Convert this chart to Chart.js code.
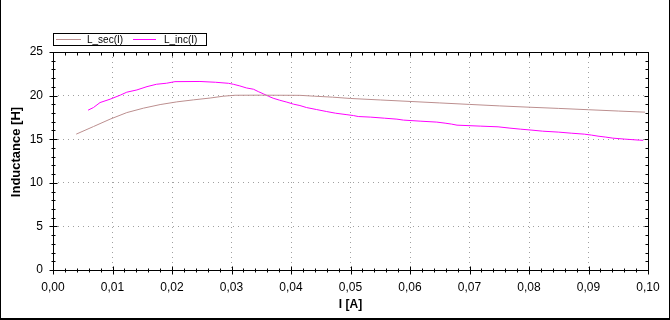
<!DOCTYPE html>
<html>
<head>
<meta charset="utf-8">
<title>Inductance</title>
<script src="https://cdn.jsdelivr.net/npm/chart.js@4.4.1/dist/chart.umd.min.js"></script>
<style>
  body { margin: 0; background: #fff; }
  #wrap { position: relative; width: 670px; height: 320px; }
</style>
</head>
<body>
<div id="wrap">
  <canvas id="myChart" width="670" height="320"></canvas>
</div>
<script>
// series: current I [A] and inductance [H]
const secI = [0.0039, 0.0068, 0.0096, 0.0124, 0.0152, 0.0180, 0.0208, 0.0236, 0.0264, 0.0286,
  0.0306, 0.0350, 0.0415, 0.0440, 0.0470, 0.0500, 0.0550, 0.0600, 0.0650, 0.0700,
  0.0750, 0.0800, 0.0850, 0.0900, 0.0950, 0.0995];
const secL = [15.58, 16.45, 17.30, 18.05, 18.56, 18.97, 19.28, 19.51, 19.72, 19.93,
  20.04, 20.05, 20.03, 19.93, 19.82, 19.67, 19.50, 19.33, 19.16, 18.99,
  18.82, 18.67, 18.53, 18.38, 18.23, 18.10];

const incI = [0.0059, 0.0068, 0.0079, 0.0096, 0.0113, 0.0124, 0.0141, 0.0158, 0.0174, 0.0191,
  0.0205, 0.0247, 0.0273, 0.0295, 0.0303, 0.0314, 0.0325, 0.0337, 0.0345, 0.0354,
  0.0362, 0.0370, 0.0381, 0.0393, 0.0404, 0.0415, 0.0426, 0.0443, 0.0460, 0.0475,
  0.0494, 0.0505, 0.0513, 0.0534, 0.0557, 0.0578, 0.0589, 0.0617, 0.0645, 0.0659,
  0.0670, 0.0679, 0.0718, 0.0748, 0.0768, 0.0786, 0.0805, 0.0823, 0.0850, 0.0871,
  0.0893, 0.0905, 0.0916, 0.0929, 0.0941, 0.0961, 0.0986, 0.0992];
const incL = [18.33, 18.63, 19.20, 19.59, 20.05, 20.39, 20.65, 21.03, 21.30, 21.42,
  21.60, 21.62, 21.53, 21.41, 21.30, 21.11, 20.88, 20.73, 20.46, 20.19,
  19.93, 19.70, 19.47, 19.25, 19.02, 18.86, 18.63, 18.40, 18.17, 17.98,
  17.81, 17.71, 17.60, 17.53, 17.41, 17.30, 17.19, 17.07, 16.96, 16.84,
  16.73, 16.61, 16.50, 16.42, 16.27, 16.15, 16.04, 15.92, 15.81, 15.69,
  15.58, 15.47, 15.35, 15.24, 15.12, 15.01, 14.89, 14.87];

const seriesNames = ["L_sec(I)", "L_inc(I)"];
const seriesColors = ["#bc8f8f", "#ff00ff"];

const xTickLabels = ["0,00", "0,01", "0,02", "0,03", "0,04", "0,05", "0,06", "0,07", "0,08", "0,09", "0,10"];
const yTickLabels = ["0", "5", "10", "15", "20", "25"];
const yTitle = "Inductance [H]";

const fontName = '"Liberation Sans", Arial, sans-serif';
const gridGray = "#a0a0a0";

// axis box, minor ticks, legend, y title and outer frame
const frameTicks = {
  id: "frameTicks",
  afterDraw(chart) {
    const { ctx, chartArea: a, scales: { x, y } } = chart;
    const L = Math.round(a.left) + 0.5, R = Math.round(a.right) + 0.5;
    const T = Math.round(a.top) + 0.5, B = Math.round(a.bottom) + 0.5;
    ctx.save();
    ctx.strokeStyle = "#000";
    ctx.lineWidth = 1;
    ctx.strokeRect(L, T, R - L, B - T);
    ctx.beginPath();
    // x ticks: every 0.002, major every 0.01
    for (let k = 0; k <= 50; k++) {
      const px = Math.round(x.getPixelForValue(k * 0.002)) + 0.5;
      const major = k % 5 === 0;
      ctx.moveTo(px, B - (major ? 4 : 2));
      ctx.lineTo(px, B + (major ? 4 : 2));
      ctx.moveTo(px, T);
      ctx.lineTo(px, T + (major ? 4 : 3));
    }
    // y ticks: every 1, major every 5
    for (let k = 0; k <= 25; k++) {
      const py = Math.round(y.getPixelForValue(k)) + 0.5;
      const major = k % 5 === 0;
      ctx.moveTo(L - (major ? 4 : 2), py);
      ctx.lineTo(L + (major ? 4 : 2), py);
      ctx.moveTo(R, py);
      ctx.lineTo(R - (major ? 4 : 3), py);
    }
    ctx.stroke();

    // legend box above the plot
    ctx.fillStyle = "#fff";
    ctx.fillRect(53, 33, 154, 12);
    ctx.strokeRect(53.5, 33.5, 153, 12);
    const legendPos = [[56, 81, 87], [133, 156, 164]];
    ctx.font = "10px " + fontName;
    ctx.textBaseline = "middle";
    ctx.textAlign = "left";
    seriesNames.forEach((name, i) => {
      ctx.beginPath();
      ctx.strokeStyle = seriesColors[i];
      ctx.moveTo(legendPos[i][0], 39.5);
      ctx.lineTo(legendPos[i][1], 39.5);
      ctx.stroke();
      ctx.fillStyle = "#000";
      ctx.fillText(name, legendPos[i][2], 40);
    });

    // y axis title (sits a bit above the centre, like the original)
    ctx.save();
    ctx.translate(16, 152);
    ctx.rotate(-Math.PI / 2);
    ctx.font = "bold 13px " + fontName;
    ctx.fillStyle = "#000";
    ctx.textAlign = "center";
    ctx.textBaseline = "middle";
    ctx.fillText(yTitle, 0, 0);
    ctx.restore();

    // outer frame
    ctx.strokeStyle = "#000";
    ctx.beginPath();
    ctx.moveTo(0.5, 0);
    ctx.lineTo(0.5, 319);
    ctx.moveTo(669.5, 0);
    ctx.lineTo(669.5, 319);
    ctx.stroke();
    ctx.fillStyle = "#000";
    ctx.fillRect(0, 318, 670, 2);
    ctx.restore();
  },
};

const ctx = document.getElementById("myChart").getContext("2d");
const myChart = new Chart(ctx, {
  type: "line",
  data: {
    datasets: [
      {
        label: seriesNames[0],
        data: secI.map((v, i) => ({ x: v, y: secL[i] })),
        borderColor: seriesColors[0],
        borderWidth: 1,
        pointRadius: 0,
        tension: 0,
      },
      {
        label: seriesNames[1],
        data: incI.map((v, i) => ({ x: v, y: incL[i] })),
        borderColor: seriesColors[1],
        borderWidth: 1,
        pointRadius: 0,
        tension: 0,
      },
    ],
  },
  options: {
    responsive: false,
    animation: false,
    devicePixelRatio: 1,
    layout: { padding: { top: 52, right: 22, left: 0, bottom: 0 } },
    plugins: {
      legend: { display: false },
      tooltip: { enabled: false },
    },
    scales: {
      x: {
        type: "linear",
        min: 0,
        max: 0.1,
        afterFit: (s) => { s.height = 50; },
        ticks: {
          stepSize: 0.01,
          autoSkip: false,
          maxRotation: 0,
          padding: 10,
          color: "#000",
          font: { family: fontName, size: 12 },
          callback: (v, i) => xTickLabels[i],
        },
        grid: { color: gridGray, lineWidth: 1, drawTicks: false },
        border: { display: false, dash: [1, 4] },
        title: {
          display: true,
          text: "I [A]",
          color: "#000",
          font: { family: fontName, size: 12, weight: "bold" },
          padding: { top: 0, bottom: 8 },
        },
      },
      y: {
        min: 0,
        max: 25,
        afterFit: (s) => { s.width = 53; },
        ticks: {
          stepSize: 5,
          padding: 10,
          color: "#000",
          font: { family: fontName, size: 12 },
          callback: (v, i) => yTickLabels[i],
        },
        grid: { color: gridGray, lineWidth: 1, drawTicks: false },
        border: { display: false, dash: [1, 4] },
      },
    },
  },
  plugins: [frameTicks],
});
</script>
</body>
</html>
